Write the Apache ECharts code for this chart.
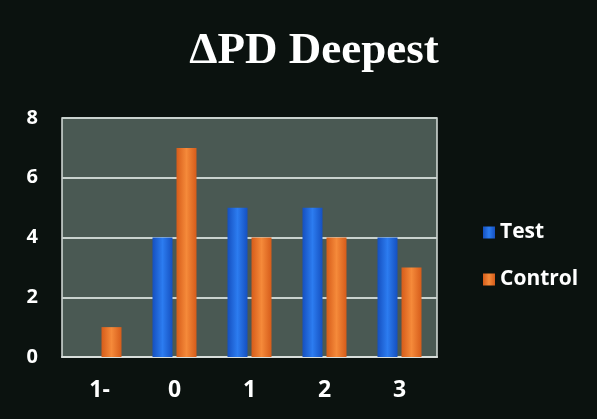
<!DOCTYPE html>
<html>
<head>
<meta charset="utf-8">
<script src="https://cdn.jsdelivr.net/npm/echarts@6/dist/echarts.min.js"></script>
<style>
  html, body { margin: 0; padding: 0; background: #0b120f; }
  #chart { width: 597px; height: 419px; }
</style>
</head>
<body>
<div id="chart"></div>
<script>
const categories = ['1-', '0', '1', '2', '3'];
const testValues = [0, 4, 5, 5, 4];
const controlValues = [1, 7, 4, 4, 3];
const yTicks = [0, 2, 4, 6, 8];

const labelFont = {
    color: '#ffffff',
    fontWeight: 'bold',
    fontFamily: 'Open Sans'
};

// bar colours with a soft horizontal gradient, like the glossy original
const barStyle = (dark, mid) => ({
    color: new echarts.graphic.LinearGradient(0, 0, 1, 0, [
        { offset: 0, color: dark },
        { offset: 0.5, color: mid },
        { offset: 1, color: dark }
    ])
});

const option = {
    backgroundColor: '#0b120f',
    animation: false,
    title: {
        text: 'ΔPD Deepest',
        left: 309,
        top: 24,
        textAlign: 'center',
        textStyle: {
            color: '#ffffff',
            fontSize: 45,
            fontWeight: 'bold',
            fontFamily: 'Liberation Serif'
        }
    },
    legend: {
        orient: 'vertical',
        left: 478,
        top: 217,
        itemWidth: 12,
        itemHeight: 12,
        itemGap: 26,
        icon: 'rect',
        textStyle: {
            color: '#ffffff',
            fontSize: 21,
            fontWeight: 'bold',
            fontFamily: 'Open Sans'
        },
        data: ['Test', 'Control']
    },
    grid: {
        left: 62, top: 118, width: 375, height: 239,
        show: true,
        backgroundColor: '#4a5953',
        borderColor: '#d8dedb',
        borderWidth: 1.5
    },
    xAxis: {
        type: 'category',
        data: categories,
        axisTick: { show: false },
        axisLine: { show: true, lineStyle: { color: '#d8dedb', width: 2 } },
        axisLabel: Object.assign({ margin: 22, fontSize: 23 }, labelFont)
    },
    yAxis: {
        type: 'value',
        min: yTicks[0],
        max: yTicks[yTicks.length - 1],
        interval: yTicks[1] - yTicks[0],
        axisLine: { show: false },
        axisTick: { show: false },
        splitLine: { lineStyle: { color: '#c9d2ce', width: 2 } },
        axisLabel: Object.assign({ margin: 24, fontSize: 20 }, labelFont)
    },
    series: [
        {
            name: 'Test',
            type: 'bar',
            data: testValues,
            barWidth: 20,
            barGap: '20%',
            itemStyle: barStyle('#1550c0', '#2c7cf0')
        },
        {
            name: 'Control',
            type: 'bar',
            data: controlValues,
            barWidth: 20,
            barGap: '20%',
            itemStyle: barStyle('#d65c1a', '#f58a3a')
        }
    ]
};

echarts.init(document.getElementById('chart')).setOption(option);
</script>
</body>
</html>
